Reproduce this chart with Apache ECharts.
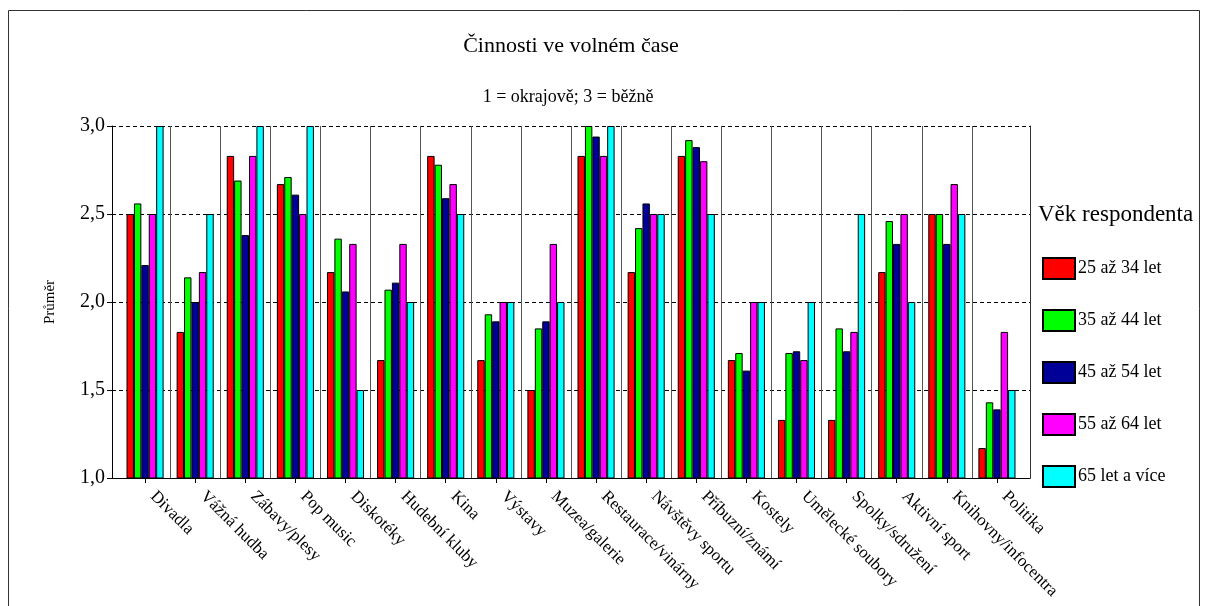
<!DOCTYPE html>
<html><head><meta charset="utf-8">
<script src="https://cdn.jsdelivr.net/npm/echarts@6/dist/echarts.min.js"></script>
<style>html,body{margin:0;padding:0;background:#fff}#c{width:1208px;height:606px}</style>
</head><body><div id="c"></div>
<script>
const categories = ['Divadla','Vážná hudba','Zábavy/plesy','Pop music','Diskotéky','Hudební kluby','Kina','Výstavy','Muzea/galerie','Restaurace/vinárny','Návštěvy sportu','Příbuzní/známí','Kostely','Umělecké soubory','Spolky/sdružení','Aktivní sport','Knihovny/infocentra','Politika'];
const seriesNames = ['25 až 34 let','35 až 44 let','45 až 54 let','55 až 64 let','65 let a více'];
const age25 = [2.50,1.83,2.83,2.67,2.17,1.67,2.83,1.67,1.50,2.83,2.17,2.83,1.67,1.33,1.33,2.17,2.50,1.17];
const age35 = [2.56,2.14,2.69,2.71,2.36,2.07,2.78,1.93,1.85,3.00,2.42,2.92,1.71,1.71,1.85,2.46,2.50,1.43];
const age45 = [2.21,2.00,2.38,2.61,2.06,2.11,2.59,1.89,1.89,2.94,2.56,2.88,1.61,1.72,1.72,2.33,2.33,1.39];
const age55 = [2.50,2.17,2.83,2.50,2.33,2.33,2.67,2.00,2.33,2.83,2.50,2.80,2.00,1.67,1.83,2.50,2.67,1.83];
const age65 = [3.00,2.50,3.00,3.00,1.50,2.00,2.50,2.00,2.00,3.00,2.50,2.50,2.00,2.00,2.50,2.00,2.50,1.50];
const yMin = 1, yMax = 3, yStep = 0.5;
const titleText = 'Činnosti ve volném čase';
const subText = '1 = okrajově; 3 = běžně';
const legendTitle = 'Věk respondenta';
const yName = 'Průměr';

const seriesData = [age25, age35, age45, age55, age65];
const colors = ['#FF0000','#00FF00','#000099','#FF00FF','#00FFFF'];
const FONT = 'Liberation Serif';

const chart = echarts.init(document.getElementById('c'), null, {renderer:'canvas'});
const option = {
  animation: false,
  backgroundColor: '#fff',
  textStyle: {fontFamily: FONT},
  title: [
    {text: titleText, left: 571, top: 35, padding: 0, textAlign: 'center',
     textStyle: {fontFamily: FONT, fontSize: 22, fontWeight: 'normal', color: '#000'}},
    {text: subText, left: 568, top: 88, padding: 0, textAlign: 'center',
     textStyle: {fontFamily: FONT, fontSize: 18, fontWeight: 'normal', color: '#000'}},
    {text: legendTitle, left: 1038, top: 203, padding: 0,
     textStyle: {fontFamily: FONT, fontSize: 23, fontWeight: 'normal', color: '#000'}}
  ],
  legend: {
    orient: 'vertical', left: 1042, top: 257, padding: 0,
    itemWidth: 32, itemHeight: 21, itemGap: 29,
    data: seriesNames,
    textStyle: {fontFamily: FONT, fontSize: 18, color: '#000', padding: [0,0,0,-2]},
    icon: 'rect'
  },
  grid: [
    {left: 112, top: 126, width: 918, height: 352},
    {left: 120, top: 126, width: 902, height: 352}
  ],
  xAxis: [
    {gridIndex: 0, type: 'category', data: categories, show: true,
     axisLine: {show: true, lineStyle: {color: '#000', width: 1}},
     axisTick: {show: false}, axisLabel: {show: false}, splitLine: {show: false}},
    {gridIndex: 1, type: 'category', data: categories, boundaryGap: true,
     axisLine: {show: false},
     axisTick: {show: true, alignWithLabel: true, length: 5, lineStyle: {color: '#000'}},
     axisLabel: {interval: 0, rotate: -45, margin: 8, padding: [0,0,0,11],
       fontFamily: FONT, fontSize: 17, color: '#000'},
     splitLine: {show: true, showMinLine: false, showMaxLine: false,
       lineStyle: {color: '#555', width: 1}}}
  ],
  yAxis: [
    {gridIndex: 0, type: 'value', min: yMin, max: yMax, interval: yStep,
     name: yName, nameLocation: 'middle', nameGap: 54, nameRotate: 90,
     nameTextStyle: {fontFamily: FONT, fontSize: 15, color: '#000'},
     axisLine: {show: true, lineStyle: {color: '#000', width: 1}},
     axisTick: {show: true, length: 5, lineStyle: {color: '#000'}},
     axisLabel: {fontFamily: FONT, fontSize: 20, color: '#000', margin: 7,
       formatter: v => v.toFixed(1).replace('.', ',')},
     splitLine: {show: true, lineStyle: {color: '#000', type: [4,3], width: 1}}},
    {gridIndex: 0, type: 'value', min: yMin, max: yMax, interval: yStep, position: 'right',
     axisLine: {show: true, lineStyle: {color: '#333', width: 1}},
     axisTick: {show: false}, axisLabel: {show: false}, splitLine: {show: false}},
    {gridIndex: 1, type: 'value', min: yMin, max: yMax, interval: yStep, show: false,
     splitLine: {show: false}}
  ],
  series: seriesData.map((d, i) => ({
    name: seriesNames[i], type: 'bar', xAxisIndex: 1, yAxisIndex: 2,
    data: d, barGap: '0%', barCategoryGap: '26%',
    itemStyle: {color: colors[i], borderColor: '#000', borderWidth: 1},
    emphasis: {disabled: true}
  })),
  graphic: [
    {type: 'rect', shape: {x: 8.5, y: 10.5, width: 1191, height: 620}, z: -10,
     style: {fill: 'none', stroke: '#333', lineWidth: 1}, silent: true}
  ]
};
chart.setOption(option);
</script></body></html>
